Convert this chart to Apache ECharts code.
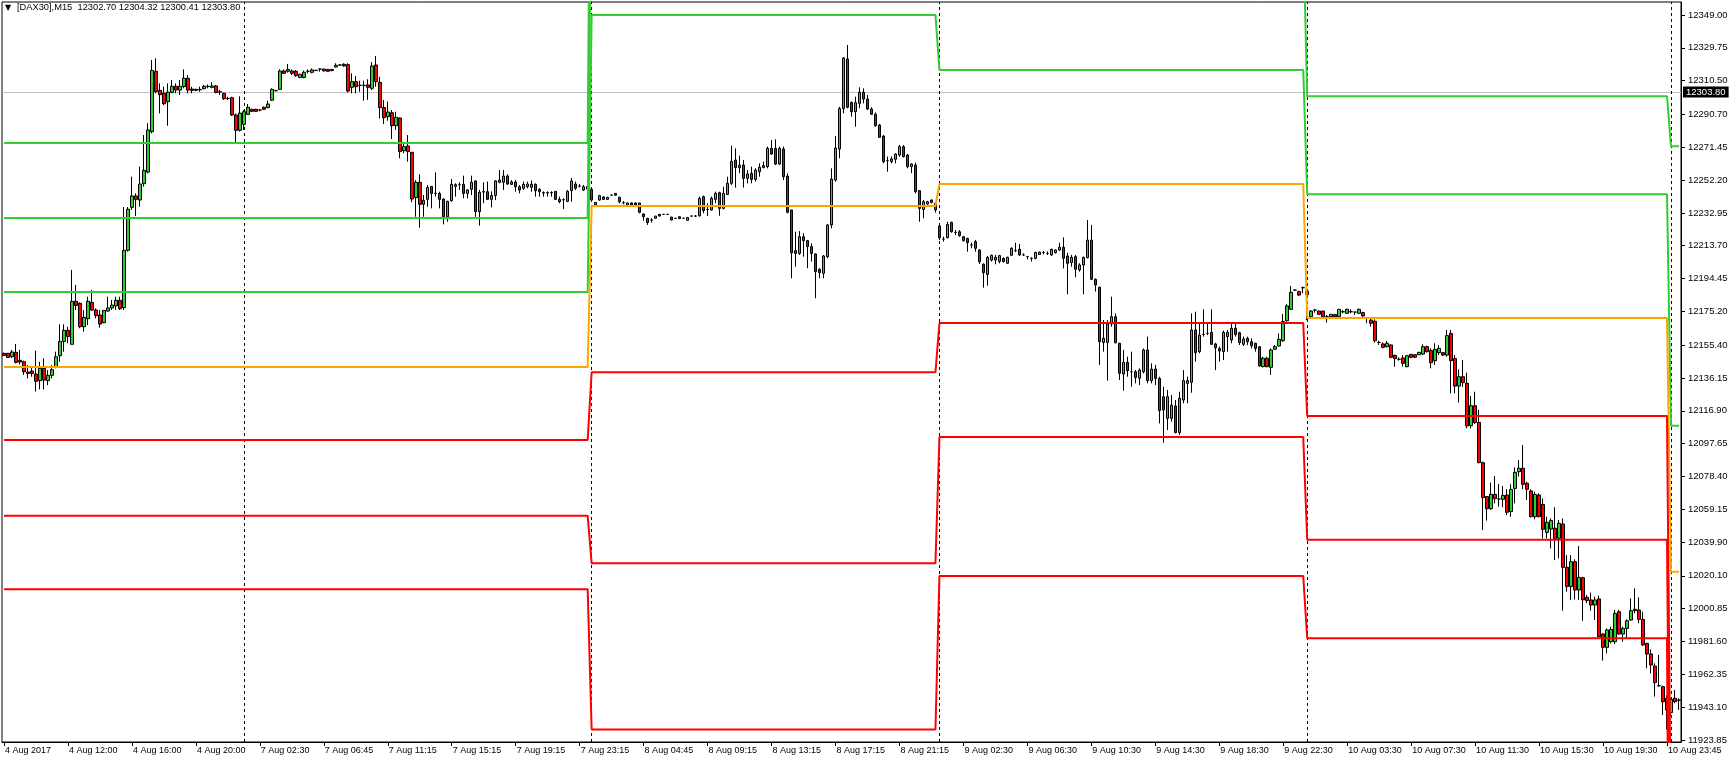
<!DOCTYPE html>
<html><head><meta charset="utf-8">
<script src="https://cdn.jsdelivr.net/npm/echarts@6/dist/echarts.min.js"></script>
<style>html,body{margin:0;padding:0;background:#fff}#c{width:1729px;height:763px}</style>
</head><body><div id="c"></div>
<script>
// ---- M15 bars (open / high / low / close) ----
const opens = [
12150.6,12150.6,12148.6,12151.2,12146.5,12145.7,12139.6,12140.2,12138.5,12134.6,
12141.8,12134.6,12137.7,12142.4,12149.2,12157.6,12164.1,12155.9,12181.1,12179.9,
12166.2,12170.9,12180.5,12176.0,12173.1,12168.6,12175.4,12177.2,12178.4,12181.7,
12177.4,12211.0,12236.2,12242.9,12240.5,12250.1,12256.9,12280.6,12316.0,12304.8,
12303.1,12298.2,12303.6,12307.2,12305.0,12307.0,12311.9,12305.6,12305.4,12305.4,
12305.8,12307.0,12306.6,12307.4,12304.0,12303.1,12300.1,12300.5,12290.4,12281.4,
12284.9,12290.7,12293.7,12293.7,12293.3,12294.9,12294.7,12299.0,12304.6,12305.4,
12316.2,12316.0,12316.2,12316.0,12312.4,12312.4,12316.0,12315.4,12316.6,12317.3,
12317.3,12317.1,12317.1,12318.5,12319.7,12320.1,12319.9,12306.6,12309.9,12307.8,
12307.8,12308.0,12306.0,12319.7,12309.5,12294.7,12289.4,12291.7,12284.1,12288.6,
12269.4,12272.2,12268.5,12241.9,12250.9,12238.0,12240.9,12248.5,12244.4,12244.4,
12241.1,12230.7,12240.1,12248.5,12249.5,12249.7,12244.4,12246.8,12251.7,12233.7,
12245.2,12245.4,12240.9,12243.2,12250.9,12250.9,12254.6,12249.7,12251.1,12248.3,
12247.4,12248.3,12248.0,12249.7,12246.8,12244.8,12244.8,12245.0,12245.6,12240.9,
12240.7,12239.7,12246.0,12249.9,12248.7,12246.4,12247.0,12246.8,12237.8,12240.5,
12242.3,12240.9,12243.4,12244.4,12242.1,12238.9,12237.6,12238.8,12238.8,12238.8,
12232.3,12229.8,12228.8,12229.8,12232.1,12232.1,12232.1,12230.5,12229.8,12230.7,
12229.8,12228.6,12231.1,12231.1,12231.3,12242.5,12235.0,12234.7,12240.9,12244.8,
12235.6,12243.8,12250.3,12264.0,12259.5,12261.0,12253.2,12256.2,12252.6,12257.1,
12259.5,12260.1,12270.8,12270.8,12261.6,12270.4,12254.6,12234.7,12210.8,12209.2,
12219.0,12216.7,12213.2,12208.9,12199.9,12197.5,12207.3,12225.9,12252.2,12270.4,
12294.1,12323.2,12297.8,12292.3,12297.2,12303.7,12299.7,12293.9,12290.8,12284.5,
12278.0,12263.6,12263.0,12264.4,12266.9,12271.8,12266.9,12260.1,12261.0,12246.0,
12235.0,12238.2,12240.5,12238.6,12225.3,12217.6,12218.4,12227.4,12221.5,12221.9,
12219.0,12218.0,12214.1,12216.1,12211.2,12202.8,12196.9,12205.3,12205.3,12204.4,
12206.3,12203.4,12208.1,12210.8,12211.6,12208.3,12207.3,12206.3,12206.3,12208.6,
12209.8,12209.2,12208.3,12209.6,12211.2,12212.8,12207.7,12203.8,12207.3,12199.5,
12202.4,12206.7,12217.0,12194.0,12189.3,12157.0,12157.0,12167.8,12172.1,12156.5,
12138.5,12145.3,12139.8,12139.8,12136.0,12139.8,12152.6,12134.6,12141.4,12135.9,
12125.2,12112.5,12112.5,12119.7,12104.1,12123.2,12133.0,12133.6,12164.3,12151.6,
12161.7,12162.3,12162.9,12156.1,12153.5,12151.6,12160.4,12158.4,12165.3,12162.7,
12155.9,12159.4,12157.4,12156.5,12154.5,12142.8,12147.7,12142.4,12153.0,12154.9,
12158.0,12169.7,12176.4,12187.7,12186.8,12189.1,12187.0,12172.1,12176.0,12175.4,
12175.4,12172.1,12172.1,12173.3,12172.1,12175.0,12174.1,12175.0,12174.8,12174.1,
12174.5,12171.1,12170.1,12169.4,12157.0,12156.1,12154.5,12155.5,12149.4,12147.1,
12147.9,12142.8,12150.0,12149.8,12149.8,12150.2,12154.5,12152.2,12146.3,12151.0,
12151.0,12149.6,12162.3,12147.5,12131.4,12136.9,12133.0,12108.2,12119.9,12110.1,
12086.5,12066.6,12059.5,12067.9,12065.2,12065.0,12067.5,12057.8,12071.4,12081.2,
12083.2,12074.4,12069.9,12054.8,12067.5,12062.0,12045.6,12047.6,12048.0,12042.1,
12050.5,12025.1,12013.8,12028.4,12011.8,12019.0,12007.5,12006.0,12003.0,12006.6,
11986.0,11978.2,11981.5,11981.5,11999.1,11986.0,11989.3,11994.2,11999.7,12000.1,
11994.6,11980.5,11974.3,11967.2,11955.7,11955.1,11948.3,11939.9,11948.3,11947.3
];
const highs = [
12151.0,12150.8,12152.6,12156.1,12152.6,12146.3,12143.7,12142.8,12152.2,12145.7,
12147.7,12140.8,12143.7,12151.6,12167.6,12167.6,12166.2,12199.5,12190.7,12180.5,
12176.0,12183.8,12187.7,12177.0,12176.0,12175.8,12183.8,12181.9,12183.8,12183.8,
12236.4,12236.4,12254.2,12244.4,12260.1,12278.6,12285.5,12322.6,12323.6,12308.9,
12307.0,12308.9,12310.9,12308.9,12310.9,12317.1,12313.8,12307.0,12305.8,12307.0,
12308.0,12308.3,12309.5,12308.0,12305.0,12303.5,12301.1,12301.1,12291.3,12301.3,
12293.3,12296.8,12294.0,12294.0,12293.7,12295.3,12298.8,12306.0,12305.0,12317.1,
12317.1,12320.3,12317.1,12316.8,12314.6,12316.4,12317.1,12317.7,12316.8,12317.5,
12317.5,12317.3,12317.3,12320.7,12320.0,12320.7,12320.7,12314.8,12313.2,12310.5,
12310.5,12311.3,12321.4,12325.0,12312.8,12299.2,12298.2,12293.3,12292.3,12289.0,
12273.7,12278.6,12268.5,12252.2,12255.6,12243.4,12249.3,12248.7,12256.7,12245.4,
12241.5,12240.1,12252.8,12250.3,12250.9,12254.8,12246.8,12254.8,12251.9,12246.4,
12250.9,12251.3,12245.6,12252.2,12258.1,12258.1,12255.6,12252.2,12252.2,12249.3,
12251.3,12251.3,12251.9,12250.3,12247.4,12245.6,12245.6,12245.6,12245.6,12242.5,
12241.5,12246.4,12253.4,12251.3,12249.9,12249.3,12249.5,12247.4,12239.3,12243.5,
12242.7,12242.3,12243.7,12244.6,12242.5,12239.9,12239.0,12239.0,12239.0,12238.8,
12232.7,12229.8,12229.8,12231.1,12232.3,12232.3,12232.3,12230.7,12230.0,12230.9,
12230.0,12230.5,12231.3,12231.7,12242.5,12243.1,12238.6,12242.5,12245.4,12245.4,
12248.3,12254.2,12272.4,12270.8,12266.5,12264.0,12258.1,12260.1,12259.1,12262.0,
12263.0,12271.8,12275.7,12276.1,12271.8,12271.8,12256.2,12234.7,12221.9,12222.3,
12221.0,12217.1,12215.1,12209.2,12200.4,12208.3,12226.5,12259.1,12278.0,12295.2,
12324.2,12331.4,12298.2,12301.1,12306.6,12306.0,12302.1,12294.9,12291.9,12285.1,
12278.6,12266.0,12266.0,12267.9,12272.8,12272.8,12267.5,12262.0,12262.4,12246.4,
12240.5,12240.0,12240.9,12239.0,12226.8,12219.0,12227.8,12227.8,12222.9,12222.9,
12219.4,12218.4,12215.5,12217.1,12211.6,12203.4,12207.7,12208.5,12208.3,12208.3,
12206.9,12207.3,12212.8,12215.5,12214.7,12209.2,12207.7,12206.9,12210.2,12210.2,
12210.6,12210.4,12212.0,12211.6,12215.5,12218.6,12209.6,12208.3,12208.3,12203.4,
12207.3,12228.8,12225.9,12194.6,12189.7,12170.1,12170.1,12183.8,12174.0,12156.8,
12152.6,12148.6,12151.6,12140.8,12141.8,12153.5,12160.4,12144.7,12143.8,12136.9,
12131.0,12129.1,12126.1,12123.2,12128.1,12140.8,12136.9,12174.0,12175.0,12168.2,
12176.4,12168.2,12176.4,12156.8,12154.5,12163.9,12164.3,12168.2,12168.2,12163.3,
12160.4,12160.4,12159.4,12156.8,12154.9,12148.6,12148.6,12153.5,12155.5,12162.3,
12173.7,12179.5,12190.1,12188.0,12187.3,12189.7,12187.5,12176.0,12176.4,12175.6,
12175.6,12173.1,12173.7,12173.5,12176.6,12176.0,12176.8,12176.4,12174.8,12176.8,
12175.0,12171.7,12171.7,12170.5,12158.0,12156.9,12157.8,12155.9,12149.8,12148.3,
12149.6,12149.6,12150.2,12150.0,12151.4,12155.9,12155.1,12153.5,12156.5,12155.5,
12151.4,12164.3,12164.3,12149.6,12141.2,12146.7,12139.3,12125.6,12128.1,12117.4,
12087.1,12066.9,12074.8,12078.7,12074.0,12072.8,12070.9,12073.8,12083.7,12088.0,
12096.8,12075.3,12070.9,12069.5,12068.5,12065.6,12054.8,12053.8,12060.3,12052.9,
12053.8,12032.3,12032.3,12029.8,12037.6,12019.6,12008.9,12010.3,12007.9,12008.5,
11986.4,11989.3,11990.3,12000.1,12000.1,11990.3,11994.6,12006.9,12012.8,12007.5,
11999.1,11980.9,11977.0,11968.8,11973.7,11955.7,11950.0,11948.5,11953.2,11948.3
];
const lows = [
12149.0,12148.0,12147.9,12144.7,12144.1,12137.9,12135.9,12136.9,12128.2,12129.5,
12129.5,12132.0,12135.9,12141.8,12145.7,12151.6,12156.5,12155.9,12176.0,12165.3,
12163.3,12167.2,12175.6,12171.1,12165.6,12168.2,12175.0,12176.0,12176.0,12176.0,
12176.0,12210.2,12234.7,12231.1,12236.6,12248.3,12256.1,12279.6,12303.1,12291.3,
12296.2,12284.1,12303.1,12303.1,12302.1,12306.0,12303.1,12303.1,12304.4,12304.0,
12305.4,12306.0,12306.0,12303.1,12302.1,12299.2,12299.2,12289.8,12274.3,12280.6,
12281.6,12290.4,12292.3,12292.3,12292.5,12293.5,12294.3,12298.6,12304.2,12305.0,
12314.4,12315.2,12313.8,12312.8,12312.0,12311.9,12314.8,12314.8,12316.2,12315.8,
12316.0,12315.8,12316.0,12318.3,12319.3,12318.7,12303.6,12303.1,12303.1,12304.0,
12298.8,12299.2,12305.0,12307.0,12288.4,12285.1,12287.0,12276.3,12281.6,12265.0,
12267.9,12263.0,12239.2,12230.7,12224.3,12230.7,12236.6,12235.6,12242.5,12235.6,
12226.2,12227.8,12239.5,12242.5,12246.4,12241.5,12241.5,12243.4,12230.7,12225.5,
12238.6,12240.5,12236.2,12240.5,12250.3,12246.4,12249.3,12249.3,12245.4,12244.4,
12246.4,12247.4,12245.4,12242.5,12242.5,12242.5,12242.5,12242.5,12240.5,12238.6,
12235.2,12239.3,12239.5,12246.4,12247.9,12245.8,12245.6,12239.5,12237.6,12240.1,
12240.7,12240.7,12243.1,12243.1,12238.6,12238.0,12237.4,12237.4,12237.4,12232.7,
12228.4,12225.9,12227.3,12229.6,12230.9,12231.9,12231.9,12228.6,12229.4,12229.4,
12229.4,12228.4,12230.9,12230.5,12230.7,12232.7,12231.1,12234.3,12238.6,12231.3,
12235.0,12243.4,12249.3,12247.8,12256.2,12247.8,12250.3,12250.3,12251.3,12254.2,
12259.1,12259.1,12266.9,12261.0,12261.0,12252.2,12232.7,12194.6,12201.4,12208.3,
12207.3,12200.5,12204.4,12182.9,12194.6,12194.6,12206.3,12223.9,12251.3,12265.0,
12291.3,12294.3,12289.4,12283.5,12294.3,12297.2,12293.3,12290.4,12283.5,12276.9,
12262.0,12257.1,12262.0,12262.0,12265.9,12265.5,12259.1,12256.2,12244.4,12227.8,
12229.8,12237.8,12238.6,12233.1,12217.1,12216.1,12218.0,12221.4,12220.0,12219.0,
12216.1,12210.2,12212.2,12210.2,12203.0,12189.1,12190.3,12204.4,12202.8,12203.4,
12203.8,12203.0,12207.7,12210.0,12207.7,12207.7,12205.7,12204.4,12205.7,12208.3,
12208.6,12208.3,12207.7,12209.2,12210.6,12200.4,12185.2,12201.4,12195.2,12198.5,
12185.2,12206.3,12193.6,12186.8,12143.8,12151.6,12134.6,12166.2,12156.5,12135.0,
12128.7,12136.9,12131.0,12133.0,12132.0,12138.9,12133.0,12133.0,12132.0,12109.5,
12098.2,12105.6,12110.5,12103.7,12102.7,12121.3,12121.3,12127.5,12145.7,12150.6,
12160.4,12161.3,12155.5,12140.8,12145.7,12146.7,12151.6,12156.5,12160.4,12155.5,
12154.9,12155.5,12153.5,12151.6,12142.8,12142.4,12142.4,12137.9,12152.6,12154.5,
12157.4,12169.2,12176.0,12187.4,12184.2,12185.8,12170.0,12171.7,12174.5,12173.1,
12171.7,12168.6,12171.9,12171.9,12171.7,12174.1,12173.9,12174.1,12173.1,12173.9,
12172.1,12168.2,12166.2,12156.9,12155.5,12153.5,12154.1,12147.7,12142.8,12146.3,
12142.8,12142.4,12147.7,12148.0,12149.6,12149.6,12151.0,12141.8,12143.8,12149.6,
12149.0,12148.6,12127.1,12127.1,12121.7,12131.0,12106.6,12106.6,12109.2,12086.1,
12047.0,12052.5,12058.7,12062.6,12060.7,12060.3,12055.8,12054.8,12062.6,12078.3,
12070.9,12064.6,12054.4,12053.3,12054.4,12042.1,12042.1,12036.2,12029.4,12030.4,
11999.7,12010.9,12006.0,12006.3,12006.0,11993.8,12004.0,11999.7,11994.2,11984.1,
11970.4,11974.7,11980.5,11980.1,11985.4,11981.5,11983.5,11993.8,11998.1,11992.3,
11979.0,11965.9,11962.9,11949.3,11955.1,11938.5,11930.0,11938.0,11945.4,11941.5
];
const closes = [
12149.4,12148.2,12151.4,12145.3,12145.5,12139.8,12138.8,12138.8,12134.2,12141.8,
12134.9,12137.7,12141.0,12148.6,12157.6,12164.1,12160.4,12181.1,12178.7,12166.2,
12171.7,12181.1,12176.0,12172.7,12167.8,12175.8,12177.2,12178.9,12181.7,12176.8,
12211.0,12235.1,12242.9,12240.9,12249.9,12257.9,12281.6,12316.5,12304.2,12302.3,
12297.0,12303.8,12307.2,12305.0,12307.2,12311.9,12305.0,12304.8,12304.8,12305.2,
12307.2,12307.2,12307.4,12303.6,12303.8,12299.9,12300.0,12290.4,12281.4,12291.5,
12292.3,12294.9,12292.5,12292.5,12293.3,12293.7,12296.8,12305.4,12304.8,12316.2,
12314.8,12317.1,12314.8,12313.4,12314.2,12315.4,12316.0,12316.8,12316.4,12317.3,
12316.2,12316.0,12316.4,12319.5,12319.7,12319.1,12304.4,12309.9,12307.0,12307.8,
12307.6,12306.6,12319.1,12309.9,12294.7,12288.8,12292.1,12284.1,12289.0,12268.9,
12271.8,12268.9,12241.1,12250.9,12238.0,12240.3,12247.9,12244.4,12244.4,12240.9,
12230.7,12239.7,12249.7,12249.5,12249.5,12244.4,12246.4,12250.9,12233.7,12245.0,
12245.4,12240.9,12243.2,12251.7,12252.2,12254.6,12249.9,12251.1,12248.3,12246.4,
12249.7,12249.9,12249.7,12246.0,12245.4,12244.6,12244.6,12244.8,12240.9,12239.5,
12240.7,12245.6,12251.7,12247.4,12248.7,12248.3,12248.5,12240.5,12239.1,12243.1,
12240.9,12242.1,12243.4,12243.3,12239.5,12238.9,12238.8,12237.6,12237.6,12233.3,
12230.7,12227.3,12228.8,12231.1,12231.1,12232.1,12232.1,12228.8,12229.8,12229.6,
12229.8,12230.3,12231.1,12231.1,12241.5,12234.3,12235.0,12241.5,12244.4,12235.6,
12244.4,12250.3,12263.2,12259.5,12261.0,12253.2,12255.8,12252.6,12258.1,12259.7,
12260.7,12270.8,12267.5,12261.6,12270.8,12254.2,12233.3,12209.6,12209.2,12219.0,
12216.7,12213.2,12209.2,12198.5,12197.9,12207.7,12225.9,12252.8,12271.0,12294.1,
12323.8,12294.9,12292.3,12297.6,12303.7,12299.7,12293.9,12290.8,12284.1,12277.3,
12263.0,12263.6,12264.6,12267.5,12271.8,12265.9,12260.1,12261.6,12245.4,12235.6,
12239.5,12239.5,12239.1,12234.7,12218.4,12217.6,12226.2,12221.9,12221.5,12219.6,
12216.7,12215.5,12214.1,12212.2,12204.4,12197.9,12206.9,12208.1,12206.9,12207.9,
12204.4,12206.9,12212.2,12210.8,12208.3,12208.3,12207.3,12206.3,12209.8,12210.0,
12209.8,12209.2,12211.6,12211.2,12212.8,12206.3,12203.4,12206.9,12199.9,12202.4,
12206.9,12217.0,12194.0,12190.7,12157.4,12159.4,12167.8,12172.1,12156.8,12138.9,
12145.3,12140.4,12139.8,12136.5,12140.8,12152.6,12134.6,12141.4,12135.9,12117.0,
12117.4,12125.2,12120.3,12104.1,12124.2,12134.6,12134.6,12164.3,12151.0,12161.3,
12161.7,12162.3,12155.9,12153.9,12152.0,12162.9,12162.9,12165.3,12161.7,12156.8,
12159.0,12157.4,12155.1,12153.5,12143.2,12147.7,12142.8,12152.6,12154.5,12158.8,
12169.2,12178.4,12186.4,12187.7,12184.8,12189.1,12185.0,12175.4,12176.0,12173.5,
12172.1,12172.1,12173.5,12172.1,12176.4,12175.0,12176.4,12175.0,12174.8,12176.4,
12172.5,12171.1,12168.2,12158.0,12157.0,12154.1,12156.5,12148.3,12147.5,12147.1,
12144.7,12149.2,12148.3,12148.3,12151.2,12154.5,12151.6,12145.1,12152.9,12153.5,
12149.6,12161.0,12146.3,12131.4,12136.9,12133.4,12108.0,12119.9,12110.0,12086.5,
12066.0,12059.5,12067.9,12065.4,12065.2,12067.3,12057.4,12070.8,12080.8,12083.2,
12073.8,12070.9,12054.8,12067.9,12054.8,12047.4,12051.5,12052.5,12042.1,12050.9,
12025.1,12013.8,12028.4,12011.8,12019.2,12006.0,12005.6,12003.0,12006.0,11984.4,
11978.2,11988.4,11988.7,11998.1,11986.0,11989.3,11993.8,11999.7,12000.5,11994.6,
11979.6,11974.3,11967.8,11957.5,11955.7,11946.3,11941.4,11947.7,11946.3,11947.1
];

// ---- time-axis labels (one every 16 bars) ----
const tickLabels = ['4 Aug 2017','4 Aug 12:00','4 Aug 16:00','4 Aug 20:00','7 Aug 02:30','7 Aug 06:45',
'7 Aug 11:15','7 Aug 15:15','7 Aug 19:15','7 Aug 23:15','8 Aug 04:45','8 Aug 09:15','8 Aug 13:15',
'8 Aug 17:15','8 Aug 21:15','9 Aug 02:30','9 Aug 06:30','9 Aug 10:30','9 Aug 14:30','9 Aug 18:30',
'9 Aug 22:30','10 Aug 03:30','10 Aug 07:30','10 Aug 11:30','10 Aug 15:30','10 Aug 19:30','10 Aug 23:45'];
const labelEvery = 16;

// ---- price-axis labels ----
const priceTicks = [12349.00,12329.75,12310.50,12290.70,12271.45,12252.20,12232.95,12213.70,12194.45,
12175.20,12155.40,12136.15,12116.90,12097.65,12078.40,12059.15,12039.90,12020.10,12000.85,11981.60,
11962.35,11943.10,11923.85];
const priceMin = 11922.68, priceMax = 12356.63;
const bidPrice = 12303.80;
const titleText = '[DAX30],M15  12302.70 12304.32 12300.41 12303.80';

// ---- day separators (bar index of first bar of each day) ----
const daySeparators = [60, 147, 234, 326, 417];

// ---- daily pivot levels, one value per segment ----
const segStart = [0, 147, 234, 326, 417];
const segEnd   = [146, 233, 325, 416, 419];
const pivotP = [12142.6, 12237.0, 12249.9, 12171.3, 12022.5];
const pivotR1 = [12186.6, 12349.0, 12316.8, 12243.9, 12108.2];
const pivotR2 = [12229.9, 12446.5, 12398.3, 12301.3, 12272.0];
const pivotR3 = [12273.9, 12558.5, 12465.2, 12373.9, 12357.9];
const pivotS1 = [12099.8, 12139.5, 12168.4, 12113.9, 11858.7];
const pivotS2 = [12055.4, 12027.5, 12101.5, 12041.3, 11773.0];
const pivotS3 = [12012.2, 11930.0, 12020.0, 11983.5, 11609.2];

// ---- build ----
const barIndex = opens.map((_, i) => String(i));
const candleData = opens.map((o, i) => [o, closes[i], lows[i], highs[i]]);
function levelPoints(levels) {
  const pts = [];
  levels.forEach((v, k) => { pts.push([segStart[k], v]); pts.push([segEnd[k], v]); });
  return pts;
}
const FONT = "'Liberation Sans', Arial, 'DejaVu Sans', sans-serif";
function pivotSeries(name, levels, color) {
  return { name, type: 'line', data: levelPoints(levels), showSymbol: false, symbol: 'none',
    lineStyle: { color, width: 2 }, clip: true, silent: true, z: 5, animation: false };
}

const chart = echarts.init(document.getElementById('c'), null, { renderer: 'canvas' });
chart.setOption({
  animation: false,
  backgroundColor: '#ffffff',
  textStyle: { fontFamily: FONT },
  grid: { left: 2, right: 48, top: 2, bottom: 21, outerBoundsMode: 'none', containLabel: false,
          show: true, borderColor: '#000', borderWidth: 1, backgroundColor: '#fff' },
  graphic: [{
    type: 'text', left: 5, top: 4, z: 100,
    style: { text: '▼', fill: '#000', font: "8px 'DejaVu Sans', sans-serif" }
  }, {
    type: 'text', left: 17, top: 3, z: 100,
    style: { text: titleText, fill: '#000', font: "9.3px " + FONT }
  }],
  xAxis: {
    type: 'category', data: barIndex, boundaryGap: true,
    axisLine: { show: true, lineStyle: { color: '#000', width: 1 } },
    axisTick: { show: true, length: 4, alignWithLabel: true, interval: (i) => i % labelEvery === 0, lineStyle: { color: '#000' } },
    axisLabel: { interval: (i) => i % labelEvery === 0, formatter: (v, i) => tickLabels[i / labelEvery] || '',
      align: 'left', margin: 4, padding: [0, 0, 0, 1], color: '#000', fontSize: 9, fontFamily: FONT },
    splitLine: { show: false }
  },
  yAxis: {
    type: 'value', position: 'right', min: priceMin, max: priceMax, scale: true,
    axisLine: { show: true, lineStyle: { color: '#000', width: 1 } },
    axisTick: { show: true, length: 4, customValues: priceTicks, lineStyle: { color: '#000' } },
    axisLabel: { customValues: priceTicks, formatter: (v) => v.toFixed(2), margin: 7, color: '#000', fontSize: 9.5, fontFamily: FONT },
    splitLine: { show: false }
  },
  series: [
    { type: 'candlestick', data: candleData, barWidth: 3, z: 3,
      itemStyle: { color: '#32CD32', color0: '#FF0000', borderColor: '#000', borderColor0: '#000', borderWidth: 1 },
      markLine: { silent: true, symbol: ['none', 'none'], animation: false, z: 1,
        data: [{ yAxis: bidPrice, lineStyle: { color: '#C0C0C0', width: 1, type: 'solid' },
                 label: { show: true, position: 'end', formatter: bidPrice.toFixed(2), color: '#fff', backgroundColor: '#000',
                          padding: [1, 3, 0, 3], fontSize: 9.5, fontFamily: FONT, distance: 2 } }]
          .concat(daySeparators.map(i => ({ xAxis: i, lineStyle: { color: '#000', width: 1, type: [3, 3] }, label: { show: false } })))
      }
    },
    pivotSeries('R3', pivotR3, '#32CD32'),
    pivotSeries('R2', pivotR2, '#32CD32'),
    pivotSeries('R1', pivotR1, '#32CD32'),
    pivotSeries('P', pivotP, '#FFA500'),
    pivotSeries('S1', pivotS1, '#FF0000'),
    pivotSeries('S2', pivotS2, '#FF0000'),
    pivotSeries('S3', pivotS3, '#FF0000')
  ]
});
</script></body></html>
